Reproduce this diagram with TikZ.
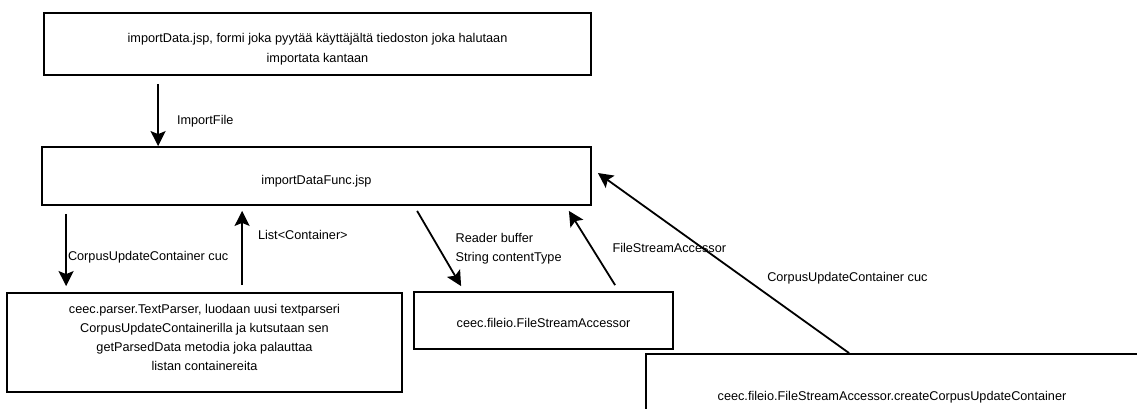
\documentclass[tikz,border=0pt]{standalone}
\usepackage{fontspec}
\setmainfont{Liberation Sans}
\usetikzlibrary{calc,arrows.meta}
\tikzset{flow/.style = {-{Stealth[length=15pt,width=15pt,inset=3pt]}, line width=1.8pt}}
\tikzset{box/.style = {draw, line width=1.8pt, inner sep=0pt}}
\tikzset{boxtext/.style = {align=center, inner sep=0pt, font=\fontsize{12.7}{19}\selectfont}}

\begin{document}
\begin{tikzpicture}[x=1pt,y=-1pt,
    lbl/.style={font=\fontsize{12.7}{19}\selectfont, anchor=west, inner sep=0pt, align=left, yshift=-2pt},
    ]
    % Page
    \useasboundingbox (0,0) rectangle (1137,408);
    \clip (0,0) rectangle (1137,408);

    % Boxes
    \node[box, minimum width=547, minimum height=62,
        label={[boxtext, yshift=-5pt]center:{importData.jsp, formi joka pyytää käyttäjältä tiedoston joka halutaan\\[1pt] importata kantaan}}]
        (form) at (317.5,44) {};
    \node[box, minimum width=549, minimum height=58,
        label={[boxtext, yshift=-5pt]center:importDataFunc.jsp}]
        (func) at (316.5,176) {};
    \node[box, minimum width=395, minimum height=99,
        label={[boxtext, yshift=5pt]center:{ceec.parser.TextParser, luodaan uusi textparseri\\ CorpusUpdateContainerilla ja kutsutaan sen\\ getParsedData metodia joka palauttaa\\ listan containereita}}]
        (parser) at (204.5,342.5) {};
    \node[box, minimum width=259, minimum height=57,
        label={[boxtext, yshift=-2pt]center:ceec.fileio.FileStreamAccessor}]
        (fsa) at (543.5,320.5) {};
    \node[box, minimum width=492, minimum height=86,
        label={[boxtext]center:ceec.fileio.FileStreamAccessor.createCorpusUpdateContainer}]
        (create) at (892,397) {};

    % Arrows
    \draw[flow] ($(form.south west)+(115,8)$) -- ($(func.north west)+(117,0)$)
        node[lbl, pos=.56, right=18pt] {ImportFile};
    \draw[flow] ($(func.south west)+(25,8)$) -- ($(parser.north west)+(60,-6)$)
        node[lbl, pos=.57, right=1pt] {CorpusUpdateContainer cuc};
    \draw[flow] ($(parser.north west)+(236,-7)$) -- ($(func.south west)+(201,5)$)
        node[lbl, pos=.70, right=15pt] {List<Container>};
    \draw[flow] ($(func.south west)+(376,5)$) -- ($(fsa.north west)+(48,-5)$)
        node[lbl, pos=.47, right=17pt] {Reader buffer\\ String contentType};
    \draw[flow] ($(fsa.north west)+(202,-6)$) -- ($(func.south east)+(-23,5)$)
        node[lbl, pos=.53, right=21pt] {FileStreamAccessor};
    \draw[flow] ($(create.north west)+(204,0)$) -- ($(func.east)+(6,-3)$)
        node[lbl, pos=.425, right=24pt] {CorpusUpdateContainer cuc};

\end{tikzpicture}
\end{document}
